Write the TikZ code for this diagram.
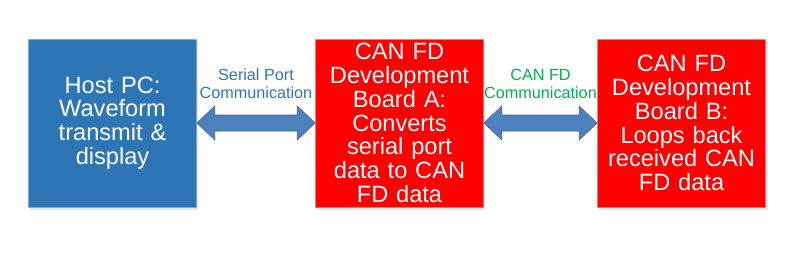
\documentclass[tikz,border=0pt]{standalone}
\usepackage{fontspec}
\setmainfont{Liberation Sans}
\usetikzlibrary{calc}
\definecolor{hostblue}{RGB}{46,117,182}
\definecolor{hostedge}{RGB}{130,168,208}
\definecolor{boardred}{RGB}{255,0,0}
\definecolor{boardedge}{RGB}{250,120,120}
\definecolor{arrowfill}{RGB}{79,129,189}
\definecolor{arrowedge}{RGB}{58,100,150}
\definecolor{serialblue}{RGB}{46,117,182}
\definecolor{cangreen}{RGB}{0,176,80}
\definecolor{shadowc}{RGB}{222,232,245}
\tikzset{
  box/.style={minimum width=168pt, minimum height=168pt, inner sep=0pt,
    text width=166pt, align=center, text=white, line width=0.8pt,
    font=\fontsize{23.6}{23.8}\selectfont},
  hostbox/.style={box, fill=hostblue, draw=hostedge},
  boardbox/.style={box, fill=boardred, draw=boardedge},
  linklabel/.style={inner sep=0pt, align=center, font=\fontsize{16.2}{18}\selectfont},
  dblarrow/.style={fill=arrowfill, draw=arrowedge, line width=0.6pt, line join=miter}
}
\begin{document}
\begin{tikzpicture}[x=1pt, y=-1pt]
\useasboundingbox (0,0) rectangle (800,258);
% shadows
\fill[shadowc] (30,41) rectangle (198,210);
\fill[shadowc] (317,41) rectangle (485,210);
\fill[shadowc] (599,41) rectangle (768,210);
% boxes
\node[hostbox] (host) at (112.5,123) {Host PC:\\Waveform\\transmit \&\\display};
\node[boardbox] (a) at (399.5,123) {CAN FD\\Development\\Board A:\\Converts\\serial port\\data to CAN\\FD data};
\node[boardbox] (b) at (681.5,123) {CAN FD\\Development\\Board B:\\Loops back\\received CAN\\FD data};
% arrows
\draw[dblarrow] (host.east) -- ++(18,-17) -- ++(0,9)
  -- ($(a.west)+(-18,-8)$) -- ++(0,-9) -- (a.west) -- ++(-18,17) -- ++(0,-9)
  -- ($(host.east)+(18,8)$) -- ++(0,9) -- cycle;
\draw[dblarrow] (a.east) -- ++(18,-17) -- ++(0,9)
  -- ($(b.west)+(-18,-8)$) -- ++(0,-9) -- (b.west) -- ++(-18,17) -- ++(0,-9)
  -- ($(a.east)+(18,8)$) -- ++(0,9) -- cycle;
% labels
\node[linklabel, text=serialblue] (l1) at ($(host.east)!0.5!(a.west)+(0,-39)$) {Serial Port\\Communication};
\node[linklabel, text=cangreen] (l2) at ($(a.east)!0.5!(b.west)+(0,-39)$) {CAN FD\\Communication};
\end{tikzpicture}
\end{document}
